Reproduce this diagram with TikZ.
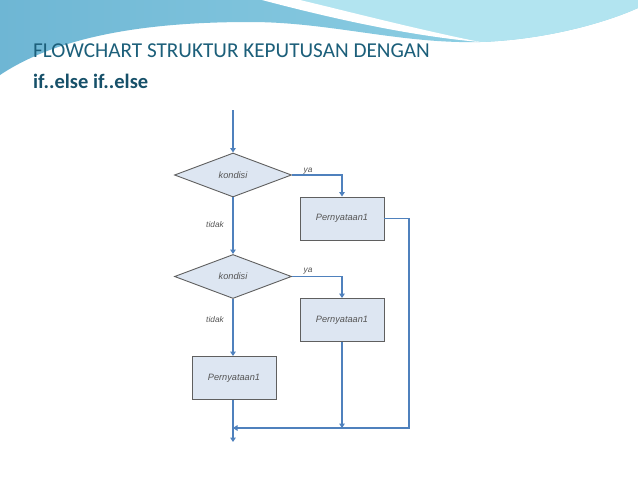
\documentclass[tikz,border=0pt]{standalone}
\usepackage{fontspec}
\setmainfont{Carlito}
\newfontfamily\arialf{Liberation Sans}
\usetikzlibrary{shapes.geometric,arrows.meta}
\definecolor{bandL}{RGB}{110,182,212}
\definecolor{bandR}{RGB}{150,214,232}
\definecolor{cyanR}{RGB}{178,228,240}
\definecolor{titlec}{RGB}{28,95,122}
\definecolor{titleb}{RGB}{22,80,105}
\definecolor{flow}{RGB}{79,129,189}
\definecolor{shapefill}{RGB}{221,230,242}
\definecolor{shapeline}{RGB}{95,95,95}
\definecolor{txtc}{RGB}{85,85,85}
\tikzset{
  dec/.style={diamond, draw=shapeline, fill=shapefill, line width=0.9pt, aspect=2.66,
    minimum width=117pt, minimum height=44pt, inner sep=0pt,
    font=\arialf\itshape\fontsize{9.2}{10}\selectfont, text=txtc},
  stmt/.style={rectangle, draw=shapeline, fill=shapefill, line width=0.9pt,
    minimum width=84pt, minimum height=43pt, inner sep=0pt,
    font=\arialf\itshape\fontsize{9.2}{10}\selectfont, text=txtc},
  conn/.style={draw=flow, line width=1.1pt, -{Triangle[width=5.5pt,length=4.5pt]}},
  lbl/.style={font=\arialf\itshape\fontsize{8.3}{9}\selectfont, text=txtc, inner sep=0pt}
}
\begin{document}
\begin{tikzpicture}[x=1pt,y=-1pt]
\useasboundingbox (0,0) rectangle (638,479);
\fill[white] (0,0) rectangle (638,479);
% background swoosh
\shade[left color=bandL, right color=bandR] (0,0) -- (638,0) -- (638,8)
  .. controls (600,25) and (540,40) .. (480,42)
  .. controls (400,44) and (330,22) .. (250,22)
  .. controls (150,22) and (60,35) .. (0,75) -- cycle;
\fill[cyanR] (270,0) .. controls (340,20) and (420,36) .. (480,42)
  .. controls (540,40) and (600,25) .. (638,8) -- (638,0) -- cycle;
\fill[white] (262,0) .. controls (330,18) and (410,36) .. (480,42)
  .. controls (420,30) and (350,12) .. (300,0) -- cycle;
% title
\node[anchor=base west, inner sep=0pt, text=titlec, font=\fontsize{21.2}{25}\selectfont] (title) at (33,57) {FLOWCHART STRUKTUR KEPUTUSAN DENGAN};
\node[anchor=base west, inner sep=0pt, text=titleb, font=\bfseries\fontsize{20.5}{25}\selectfont] (sub) at (33,88) {if..else if..else};
% flowchart
\coordinate (start) at (233,110);
\node[dec] (d1) at (233,175) {kondisi};
\node[stmt] (b1) at (342,218.5) {Pernyataan1};
\node[dec] (d2) at (233,276.5) {kondisi};
\node[stmt] (b2) at (342,320) {Pernyataan1};
\node[stmt] (b3) at (234,378) {Pernyataan1};
\coordinate (jn) at (233,428);
\coordinate (rc) at (409,428);
\coordinate (end) at (233,442);

\draw[conn] (start) -- (d1.north);
\draw[conn] (d1.east) -| (b1.north);
\draw[conn] (d1.south) -- (d2.north);
\draw[conn] (d2.east) -| (b2.north);
\draw[conn] (d2.south) -- (b3.north -| d2.south);
\draw[conn] (b1.east) -| (rc) -- (jn);
\draw[conn] (b2.south) -- (b2.south |- jn);
\draw[conn] (b3.south -| d2.south) -- (end);

\node[lbl] (ya1) at (308,171) {ya};
\node[lbl] (ya2) at (308,271) {ya};
\node[lbl] (t1) at (215,225) {tidak};
\node[lbl] (t2) at (215,320) {tidak};
\end{tikzpicture}
\end{document}
